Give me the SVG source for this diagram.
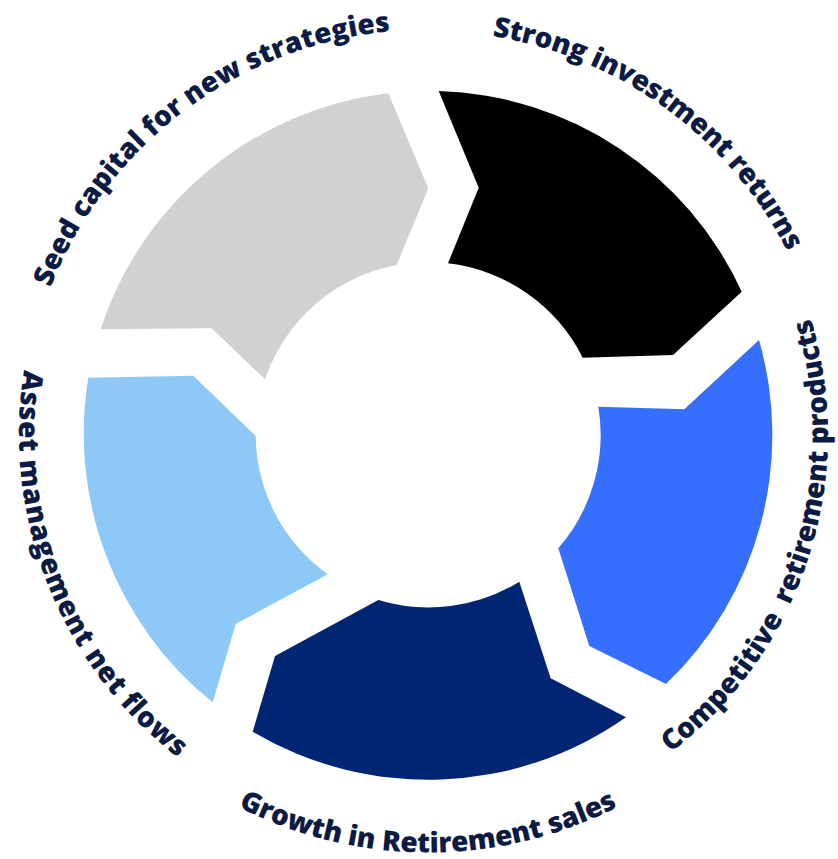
<svg xmlns="http://www.w3.org/2000/svg" width="838" height="859" viewBox="0 0 838 859">
  <style>
    .lbl { font-family: "Open Sans", "Noto Sans", "Liberation Sans", sans-serif; font-weight: 800; font-size: 28px; fill: #0B1B43; }
    .seg-grey { fill: #D1D1D1; }
    .seg-black { fill: #000000; }
    .seg-blue { fill: #366EFF; }
    .seg-navy { fill: #002673; }
    .seg-light { fill: #8EC8F7; }
  </style>
  <defs>
    <!-- baseline arcs around centre (428, 434.5) -->
    <path id="arc-seed" d="M 50.6 287.6 A 405 405 0 0 1 390 31.3"/>
    <path id="arc-strong" d="M 492.4 36.2 A 403 403 0 0 1 787.4 251.7"/>
    <path id="arc-competitive" d="M 670.4 752.7 A 400 400 0 0 0 810.7 318.2"/>
    <path id="arc-growth" d="M 238.2 806.9 A 418 418 0 0 0 617.8 806.9"/>
    <path id="arc-asset" d="M 24 369.9 A 409 409 0 0 0 177.9 757.6"/>
  </defs>

  <g id="seed-capital">
    <path class="seg-grey" d="M 100.7 329.3 A 344.5 344.5 0 0 1 388.3 93.3 L 428.3 188.3 L 396.7 265 A 172.5 172.5 0 0 0 265 379.3 L 211.7 328.3 Z"/>
    <text class="lbl"><textPath href="#arc-seed" textLength="448" lengthAdjust="spacing">Seed capital for new strategies</textPath></text>
  </g>

  <g id="strong-returns">
    <path class="seg-black" d="M 438.7 91 A 344.5 344.5 0 0 1 741.7 291.7 L 673 355 L 582.7 357.7 A 172.5 172.5 0 0 0 448 263.3 L 478.7 187.7 Z"/>
    <text class="lbl"><textPath href="#arc-strong" textLength="379" lengthAdjust="spacing">Strong investment returns</textPath></text>
  </g>

  <g id="competitive-products">
    <path class="seg-blue" d="M 759 340 A 344.5 344.5 0 0 1 666 684 L 589.3 646 L 558.3 548.3 A 172.5 172.5 0 0 0 598.3 406.7 L 684.3 409.3 Z"/>
    <text class="lbl" xml:space="preserve"><textPath href="#arc-competitive" textLength="486" lengthAdjust="spacing">Competitive  retirement products</textPath></text>
  </g>

  <g id="retirement-sales">
    <path class="seg-navy" d="M 626 717.3 A 344.5 344.5 0 0 1 252.7 731.7 L 275 656 L 378.3 600 A 172.5 172.5 0 0 0 519.3 581.7 L 550.7 678.3 Z"/>
    <text class="lbl"><textPath href="#arc-growth" textLength="394" lengthAdjust="spacing">Growth in Retirement sales</textPath></text>
  </g>

  <g id="asset-flows">
    <path class="seg-light" d="M 212.7 702.3 A 344.5 344.5 0 0 1 88.3 377.7 L 193.3 375.7 L 255.7 436 A 172.5 172.5 0 0 0 327.7 574.3 L 235.7 624 Z"/>
    <text class="lbl"><textPath href="#arc-asset" textLength="438" lengthAdjust="spacing">Asset management net flows</textPath></text>
  </g>

  <g id="connectors"/>
</svg>
